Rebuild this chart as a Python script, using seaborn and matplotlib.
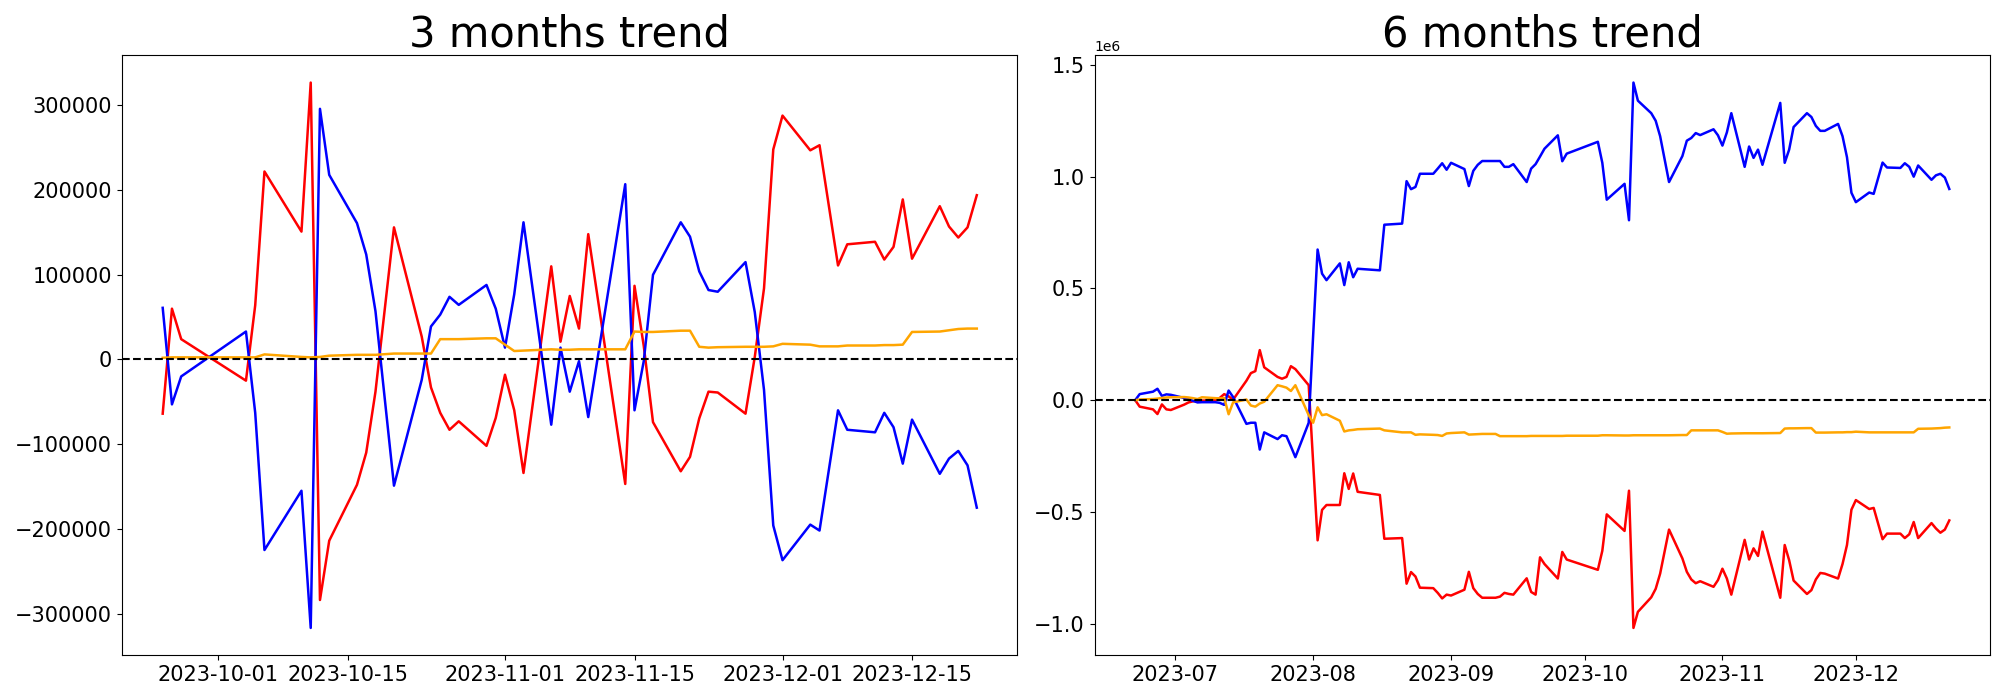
import matplotlib
matplotlib.use("Agg")
import matplotlib.pyplot as plt
import matplotlib.dates as mdates
import seaborn as sns
import numpy as np
import pandas as pd

# ---- 3 months window ----
dates_3m = ["2023-09-25", "2023-09-26", "2023-09-27", "2023-10-04", "2023-10-05", "2023-10-06",
            "2023-10-10", "2023-10-11", "2023-10-12", "2023-10-13", "2023-10-16", "2023-10-17",
            "2023-10-18", "2023-10-20", "2023-10-23", "2023-10-24", "2023-10-25", "2023-10-26",
            "2023-10-27", "2023-10-30", "2023-10-31", "2023-11-01", "2023-11-02", "2023-11-03",
            "2023-11-06", "2023-11-07", "2023-11-08", "2023-11-09", "2023-11-10", "2023-11-14",
            "2023-11-15", "2023-11-16", "2023-11-17", "2023-11-20", "2023-11-21", "2023-11-22",
            "2023-11-23", "2023-11-24", "2023-11-27", "2023-11-28", "2023-11-29", "2023-11-30",
            "2023-12-01", "2023-12-04", "2023-12-05", "2023-12-07", "2023-12-08", "2023-12-11",
            "2023-12-12", "2023-12-13", "2023-12-14", "2023-12-15", "2023-12-18", "2023-12-19",
            "2023-12-20", "2023-12-21", "2023-12-22"]

blue_3m = [61000, -53000, -20000, 33000, -63000, -225000, -155000, -317000, 296000, 218000,
           161000, 124000, 57000, -149000, -24000, 39000, 53000, 74000, 64500, 88000,
           60000, 14000, 77000, 162000, -77000, 14000, -38000, -2000, -68000, 207000,
           -60000, -2000, 100000, 162000, 145000, 104000, 82000, 80000, 115000, 56000,
           -36000, -196000, -237000, -195000, -202000, -60000, -83000, -86000, -63000, -80000,
           -123000, -71000, -135000, -117000, -108000, -125000, -175000]

red_3m = [-64000, 60000, 24000, -25000, 64000, 222000, 151000, 327000, -284000, -214000,
          -148000, -110000, -38000, 156000, 27000, -33000, -63000, -83000, -73000, -102000,
          -69000, -18000, -60000, -134000, 110000, 21000, 75000, 36500, 148000, -147000,
          87000, 16000, -74000, -132000, -115000, -69500, -38000, -39000, -64000, 3000,
          84000, 248000, 288000, 247000, 253000, 111000, 136000, 139000, 118000, 133000,
          189000, 119000, 181000, 157000, 144000, 156000, 194000]

orange_3m = [2000, 2500, 2500, 2500, 2500, 6000, 3000, 2500, 3000, 4500,
             5500, 5500, 5500, 7000, 7000, 7000, 24000, 24000, 24000, 25000,
             25000, 17500, 10000, 10500, 12000, 11500, 11500, 12000, 12000, 12000,
             33000, 32500, 32500, 34000, 34000, 15000, 14000, 14500, 15000, 15000,
             15000, 15500, 18500, 17500, 15500, 15500, 16500, 16500, 17000, 17000,
             17500, 32500, 33000, 34500, 36000, 36500, 36500]

# ---- 6 months window (values in millions) ----
dates_6m = ["2023-06-22", "2023-06-23", "2023-06-26", "2023-06-27", "2023-06-28", "2023-06-29", "2023-06-30",
            "2023-07-03", "2023-07-04", "2023-07-05", "2023-07-06", "2023-07-07",
            "2023-07-10", "2023-07-11", "2023-07-12", "2023-07-13", "2023-07-14",
            "2023-07-17", "2023-07-18", "2023-07-19", "2023-07-20", "2023-07-21",
            "2023-07-24", "2023-07-25", "2023-07-26", "2023-07-27", "2023-07-28",
            "2023-07-31", "2023-08-01", "2023-08-02", "2023-08-03", "2023-08-04",
            "2023-08-07", "2023-08-08", "2023-08-09", "2023-08-10", "2023-08-11",
            "2023-08-16", "2023-08-17", "2023-08-21", "2023-08-22", "2023-08-23", "2023-08-24", "2023-08-25",
            "2023-08-28", "2023-08-29", "2023-08-30", "2023-08-31", "2023-09-01",
            "2023-09-04", "2023-09-05", "2023-09-06", "2023-09-07", "2023-09-08",
            "2023-09-11", "2023-09-12", "2023-09-13", "2023-09-14", "2023-09-15",
            "2023-09-18", "2023-09-19", "2023-09-20", "2023-09-21", "2023-09-22",
            "2023-09-25", "2023-09-26", "2023-09-27", "2023-10-04", "2023-10-05", "2023-10-06",
            "2023-10-10", "2023-10-11", "2023-10-12", "2023-10-13",
            "2023-10-16", "2023-10-17", "2023-10-18", "2023-10-20",
            "2023-10-23", "2023-10-24", "2023-10-25", "2023-10-26", "2023-10-27",
            "2023-10-30", "2023-10-31", "2023-11-01", "2023-11-02", "2023-11-03",
            "2023-11-06", "2023-11-07", "2023-11-08", "2023-11-09", "2023-11-10",
            "2023-11-14", "2023-11-15", "2023-11-16", "2023-11-17",
            "2023-11-20", "2023-11-21", "2023-11-22", "2023-11-23", "2023-11-24",
            "2023-11-27", "2023-11-28", "2023-11-29", "2023-11-30", "2023-12-01",
            "2023-12-04", "2023-12-05", "2023-12-07", "2023-12-08",
            "2023-12-11", "2023-12-12", "2023-12-13", "2023-12-14", "2023-12-15",
            "2023-12-18", "2023-12-19", "2023-12-20", "2023-12-21", "2023-12-22"]

blue_6m = [0.000, 0.027, 0.038, 0.051, 0.019, 0.026, 0.024,
           0.010, 0.005, -0.003, -0.010, -0.009,
           -0.009, -0.012, -0.021, 0.043, 0.014,
           -0.106, -0.101, -0.101, -0.221, -0.144,
           -0.174, -0.157, -0.161, -0.207, -0.255,
           -0.101, 0.290, 0.674, 0.566, 0.537,
           0.612, 0.515, 0.617, 0.550, 0.588,
           0.581, 0.785, 0.790, 0.980, 0.944, 0.954, 1.013,
           1.013, 1.036, 1.060, 1.031, 1.062,
           1.034, 0.958, 1.026, 1.053, 1.070,
           1.070, 1.070, 1.044, 1.044, 1.056,
           0.976, 1.036, 1.056, 1.090, 1.125,
           1.185, 1.069, 1.103, 1.156, 1.062, 0.897,
           0.968, 0.805, 1.421, 1.340,
           1.284, 1.250, 1.181, 0.976,
           1.092, 1.161, 1.173, 1.195, 1.186,
           1.212, 1.185, 1.139, 1.198, 1.284,
           1.044, 1.135, 1.084, 1.121, 1.053,
           1.330, 1.062, 1.121, 1.222,
           1.284, 1.267, 1.227, 1.205, 1.205,
           1.236, 1.181, 1.087, 0.928, 0.886,
           0.929, 0.923, 1.063, 1.041,
           1.039, 1.060, 1.044, 1.000, 1.050,
           0.986, 1.006, 1.013, 0.996, 0.945]

red_6m = [0.000, -0.029, -0.041, -0.062, -0.019, -0.041, -0.044,
          -0.020, -0.010, -0.005, -0.003, -0.002,
          0.000, 0.010, 0.027, 0.017, 0.002,
          0.087, 0.121, 0.130, 0.224, 0.147,
          0.104, 0.096, 0.104, 0.152, 0.139,
          0.067, -0.280, -0.627, -0.491, -0.469,
          -0.469, -0.327, -0.397, -0.328, -0.410,
          -0.424, -0.620, -0.617, -0.821, -0.769, -0.789, -0.839,
          -0.841, -0.862, -0.887, -0.870, -0.874,
          -0.848, -0.768, -0.841, -0.867, -0.884,
          -0.884, -0.879, -0.862, -0.867, -0.870,
          -0.797, -0.858, -0.870, -0.703, -0.733,
          -0.798, -0.679, -0.713, -0.759, -0.674, -0.511,
          -0.585, -0.405, -1.019, -0.947,
          -0.882, -0.844, -0.776, -0.579,
          -0.708, -0.768, -0.802, -0.819, -0.810,
          -0.835, -0.805, -0.754, -0.798, -0.870,
          -0.625, -0.713, -0.663, -0.697, -0.588,
          -0.884, -0.648, -0.716, -0.807,
          -0.867, -0.850, -0.802, -0.773, -0.776,
          -0.798, -0.733, -0.648, -0.490, -0.447,
          -0.487, -0.482, -0.622, -0.597,
          -0.597, -0.617, -0.600, -0.545, -0.617,
          -0.550, -0.574, -0.593, -0.579, -0.538]

orange_6m = [0.000, 0.003, 0.005, 0.007, 0.010, 0.012, 0.013,
             0.014, 0.012, 0.009, 0.005, 0.013,
             0.009, 0.008, 0.010, -0.063, -0.010,
             0.003, -0.024, -0.029, -0.015, -0.007,
             0.067, 0.062, 0.056, 0.041, 0.067,
             -0.067, -0.101, -0.032, -0.067, -0.063,
             -0.092, -0.140, -0.135, -0.133, -0.130,
             -0.127, -0.135, -0.144, -0.144, -0.144, -0.155, -0.153,
             -0.155, -0.156, -0.160, -0.149, -0.147,
             -0.144, -0.154, -0.153, -0.152, -0.151,
             -0.151, -0.161, -0.161, -0.161, -0.161,
             -0.161, -0.160, -0.160, -0.160, -0.160,
             -0.160, -0.160, -0.159, -0.159, -0.157, -0.157,
             -0.158, -0.158, -0.157, -0.157,
             -0.157, -0.157, -0.157, -0.157,
             -0.156, -0.156, -0.135, -0.135, -0.135,
             -0.135, -0.135, -0.142, -0.150, -0.149,
             -0.148, -0.148, -0.148, -0.148, -0.148,
             -0.147, -0.127, -0.126, -0.126,
             -0.125, -0.125, -0.145, -0.145, -0.145,
             -0.144, -0.144, -0.143, -0.143, -0.141,
             -0.144, -0.144, -0.144, -0.144,
             -0.144, -0.144, -0.144, -0.144, -0.128,
             -0.127, -0.126, -0.125, -0.123, -0.122]

panels = [
    ("3 months trend", dates_3m, red_3m, blue_3m, orange_3m, 1),
    ("6 months trend", dates_6m, red_6m, blue_6m, orange_6m, 1e6),
]

fig, axes = plt.subplots(1, 2, figsize=(20, 7))
plt.subplots_adjust(left=0.061, right=0.995, bottom=0.064, top=0.921, wspace=0.086)

for ax, (title, dates, red, blue, orange, unit) in zip(axes, panels):
    x = pd.to_datetime(dates)
    sns.lineplot(x=x, y=np.array(red) * unit, color="red", linewidth=1.8, ax=ax)
    sns.lineplot(x=x, y=np.array(blue) * unit, color="blue", linewidth=1.8, ax=ax)
    sns.lineplot(x=x, y=np.array(orange) * unit, color="orange", linewidth=1.8, ax=ax)
    ax.axhline(0, color="black", linestyle="--", linewidth=1.5)
    ax.set_title(title, fontsize=30)
    ax.set_xlabel("")
    ax.set_ylabel("")
    ax.tick_params(labelsize=15)

axes[0].xaxis.set_major_locator(mdates.DayLocator(bymonthday=[1, 15]))
axes[0].xaxis.set_major_formatter(mdates.DateFormatter("%Y-%m-%d"))
axes[1].xaxis.set_major_locator(mdates.MonthLocator())
axes[1].xaxis.set_major_formatter(mdates.DateFormatter("%Y-%m"))

fig.savefig("out.png", dpi=100)
